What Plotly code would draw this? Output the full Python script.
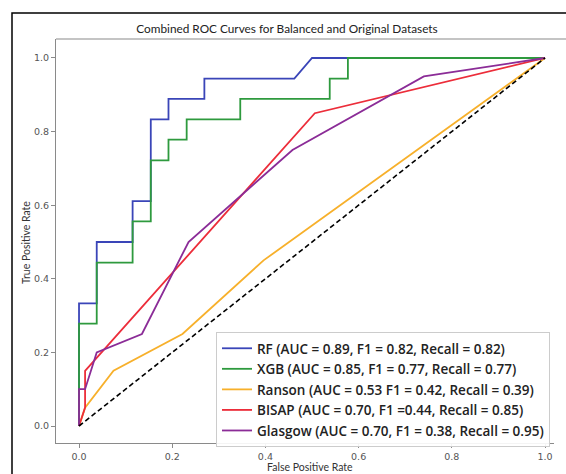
import plotly.graph_objects as go

# ---- data ----
rf_fpr = [0.0, 0.0, 0.038, 0.038, 0.115, 0.115, 0.154, 0.154, 0.192, 0.192, 0.269, 0.269, 0.462, 0.5, 1.0]
rf_tpr = [0.0, 0.333, 0.333, 0.5, 0.5, 0.611, 0.611, 0.833, 0.833, 0.889, 0.889, 0.944, 0.944, 1.0, 1.0]

xgb_fpr = [0.0, 0.0, 0.038, 0.038, 0.115, 0.115, 0.154, 0.154, 0.192, 0.192, 0.231, 0.231, 0.346, 0.346, 0.538, 0.538, 0.577, 0.577, 1.0]
xgb_tpr = [0.0, 0.278, 0.278, 0.444, 0.444, 0.556, 0.556, 0.722, 0.722, 0.778, 0.778, 0.833, 0.833, 0.889, 0.889, 0.944, 0.944, 1.0, 1.0]

ranson_fpr = [0.0, 0.013, 0.074, 0.222, 0.396, 1.0]
ranson_tpr = [0.0, 0.05, 0.15, 0.25, 0.45, 1.0]

bisap_fpr = [0.0, 0.013, 0.013, 0.506, 1.0]
bisap_tpr = [0.0, 0.05, 0.15, 0.85, 1.0]

glasgow_fpr = [0.0, 0.0, 0.013, 0.038, 0.135, 0.235, 0.458, 0.74, 1.0]
glasgow_tpr = [0.0, 0.1, 0.1, 0.2, 0.25, 0.5, 0.75, 0.95, 1.0]

chance = [0.0, 1.0]

labels = [
    "RF (AUC = 0.89, F1 = 0.82, Recall = 0.82)",
    "XGB (AUC = 0.85, F1 = 0.77, Recall = 0.77)",
    "Ranson (AUC = 0.53 F1 = 0.42, Recall = 0.39)",
    "BISAP (AUC = 0.70, F1 =0.44, Recall = 0.85)",
    "Glasgow (AUC = 0.70, F1 = 0.38, Recall = 0.95)",
]
colors = ["#3a45b8", "#2e9a3e", "#f7b02b", "#ec2d3a", "#8b2c97"]

tick_vals = [0.0, 0.2, 0.4, 0.6, 0.8, 1.0]
tick_text = ["0.0", "0.2", "0.4", "0.6", "0.8", "1.0"]

title = "Combined ROC Curves for Balanced and Original Datasets"
xlabel = "False Positive Rate"
ylabel = "True Positive Rate"

# ---- figure ----
fig = go.Figure()
series = [(rf_fpr, rf_tpr), (xgb_fpr, xgb_tpr), (ranson_fpr, ranson_tpr),
          (bisap_fpr, bisap_tpr), (glasgow_fpr, glasgow_tpr)]
for (xs, ys), name, c in zip(series, labels, colors):
    fig.add_trace(go.Scatter(x=xs, y=ys, mode="lines", name=name,
                             line=dict(color=c, width=1.8)))
fig.add_trace(go.Scatter(x=chance, y=chance, mode="lines", showlegend=False,
                         line=dict(color="black", width=1.6, dash="5px,3px")))

W, H = 566, 474
L, R, T, B = 56, 12, 39, 31
pw, ph = W - L - R, H - T - B

def px(x):
    return (x - L) / pw

def py(y):
    return (H - B - y) / ph

axis_common = dict(showgrid=False, zeroline=False, showline=True, linecolor="#8a8a8a",
                   linewidth=1.2, ticks="outside", ticklen=4, tickcolor="#8a8a8a",
                   tickwidth=1, tickvals=tick_vals, ticktext=tick_text,
                   tickfont=dict(family="DejaVu Sans", size=9.5, color="#555555"))

fig.update_layout(
    width=W, height=H,
    margin=dict(l=L, r=R, t=T, b=B, pad=0),
    paper_bgcolor="white", plot_bgcolor="white",
    xaxis=dict(range=[-0.0494, -0.0494 + pw / 466], **axis_common),
    yaxis=dict(range=[-0.0462, 1.0516], **axis_common),
    legend=dict(x=px(216), y=py(332), xanchor="left", yanchor="top",
                bgcolor="rgba(255,255,255,0.9)", bordercolor="#cccccc", borderwidth=1,
                font=dict(family="Open Sans", size=13.5, color="#222222", weight=600),
                tracegroupgap=0),
    title=dict(text=title, x=px(287), xref="paper", xanchor="center",
               y=1 - 29 / H, yref="container", yanchor="middle",
               font=dict(family="Lato", size=11.8, color="#222222")),
    showlegend=True,
)

fig.add_annotation(text=xlabel, x=px(310), y=py(467), xref="paper", yref="paper",
                   showarrow=False, xanchor="center", yanchor="middle",
                   font=dict(family="Lato", size=10.5, color="#333333"))
fig.add_annotation(text=ylabel, x=px(26), y=py(243), xref="paper", yref="paper",
                   showarrow=False, xanchor="center", yanchor="middle", textangle=-90,
                   font=dict(family="Lato", size=10.5, color="#333333"))

# top spine (runs out to the right edge of the picture)
fig.add_shape(type="line", xref="paper", yref="paper", x0=0, x1=px(570), y0=1, y1=1,
              line=dict(color="#8a8a8a", width=1.2))
# outer black frame: only its left and top edges fall inside the picture
fig.add_shape(type="rect", xref="paper", yref="paper", x0=px(12), x1=px(620),
              y0=py(540), y1=py(13), line=dict(color="black", width=1.5),
              fillcolor="rgba(0,0,0,0)", layer="below")

hide_scroll = ("document.documentElement.style.overflow='hidden';"
               "document.body.style.overflow='hidden';"
               "document.body.style.margin='0';")

fig.write_html("out.html", config={"displayModeBar": False}, post_script=hide_scroll)
